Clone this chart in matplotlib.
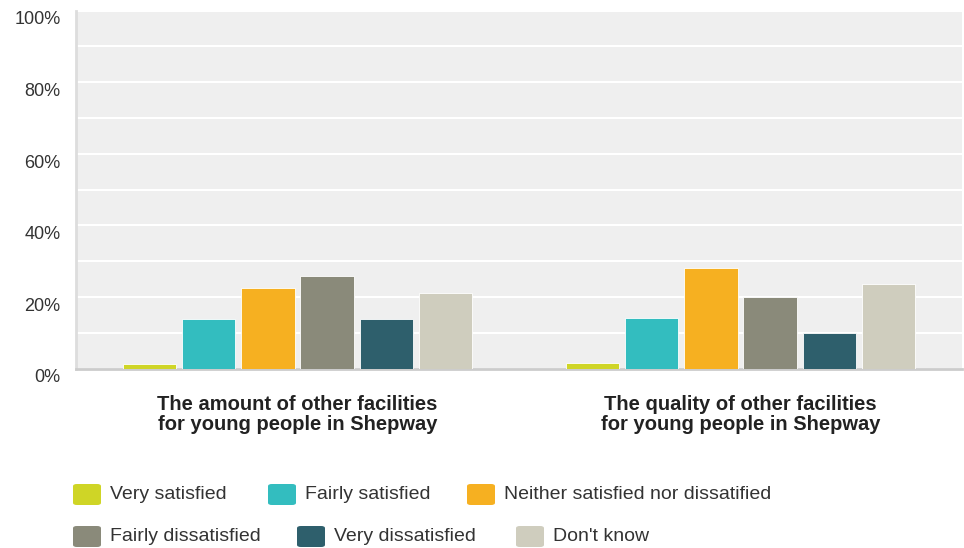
import matplotlib.pyplot as plt
import numpy as np
from matplotlib.patches import FancyBboxPatch
from matplotlib.transforms import ScaledTranslation

plt.rcParams['font.family'] = ['Liberation Sans', 'DejaVu Sans']

categories = ['The amount of other facilities\nfor young people in Shepway',
              'The quality of other facilities\nfor young people in Shepway']
series = ['Very satisfied', 'Fairly satisfied', 'Neither satisfied nor dissatified',
          'Fairly dissatisfied', 'Very dissatisfied', "Don't know"]
very_satisfied = [1.2, 1.5]
fairly_satisfied = [13.7, 14.1]
neither = [22.6, 28.1]
fairly_dissatisfied = [25.7, 20.0]
very_dissatisfied = [13.7, 10.0]
dont_know = [21.1, 23.5]
values = [very_satisfied, fairly_satisfied, neither, fairly_dissatisfied, very_dissatisfied, dont_know]
colors = ['#cfd526', '#33bdbf', '#f6b021', '#8a8a7a', '#2e5f6c', '#cfcdbe']
y_ticks = [0, 20, 40, 60, 80, 100]

fig = plt.figure(figsize=(9.64, 5.48), dpi=100)
ax = fig.add_axes([76 / 964, 1 - 368.5 / 548, 886 / 964, 358 / 548])
ax.set_facecolor('#efefef')

x = np.arange(len(categories))
pitch = 0.1335
width = 0.12
for i, (name, vals) in enumerate(zip(series, values)):
    ax.bar(x + (i - 2.5) * pitch, vals, width, color=colors[i],
           edgecolor='#ffffff', linewidth=0.6, zorder=3)

ax.set_xlim(-0.5, 1.5)
ax.set_ylim(0, 100)
ax.set_yticks(y_ticks)
ax.set_yticklabels([f'{t}%' for t in y_ticks], fontsize=13, color='#333333')
ax.set_yticks(np.arange(0, 101, 10), minor=True)
ax.grid(True, which='both', axis='y', color='white', linewidth=1.5, zorder=1)
ax.tick_params(axis='y', which='both', length=0, pad=11)
# labels sit a bit below their gridline in the original
shift = ScaledTranslation(0, -7.5 / 100, fig.dpi_scale_trans)
for lab in ax.get_yticklabels():
    lab.set_transform(lab.get_transform() + shift)
ax.set_xticks(x)
ax.set_xticklabels(categories, fontsize=14.5, fontweight='bold', color='#222222',
                   linespacing=1.05)
ax.tick_params(axis='x', length=0, pad=19)
for s in ['top', 'right']:
    ax.spines[s].set_visible(False)
ax.spines['left'].set_color('#dddddd')
ax.spines['left'].set_linewidth(2)
ax.spines['bottom'].set_color('#cccccc')
ax.spines['bottom'].set_linewidth(2)

# legend laid out like the original flow layout
leg_pos = [(73, 494.5), (268, 494.5), (467, 494.5), (73, 536.5), (297, 536.5), (516, 536.5)]
for (px, py), name, c in zip(leg_pos, series, colors):
    fig.patches.append(FancyBboxPatch((px / 964, 1 - (py + 10.5) / 548), 28 / 964, 21 / 548,
                                      boxstyle='round,pad=0,rounding_size=0.004',
                                      transform=fig.transFigure, facecolor=c,
                                      edgecolor='none'))
    fig.text((px + 37) / 964, 1 - py / 548, name, fontsize=14, color='#333333',
             va='center', ha='left')

fig.savefig('out.png', dpi=100)
